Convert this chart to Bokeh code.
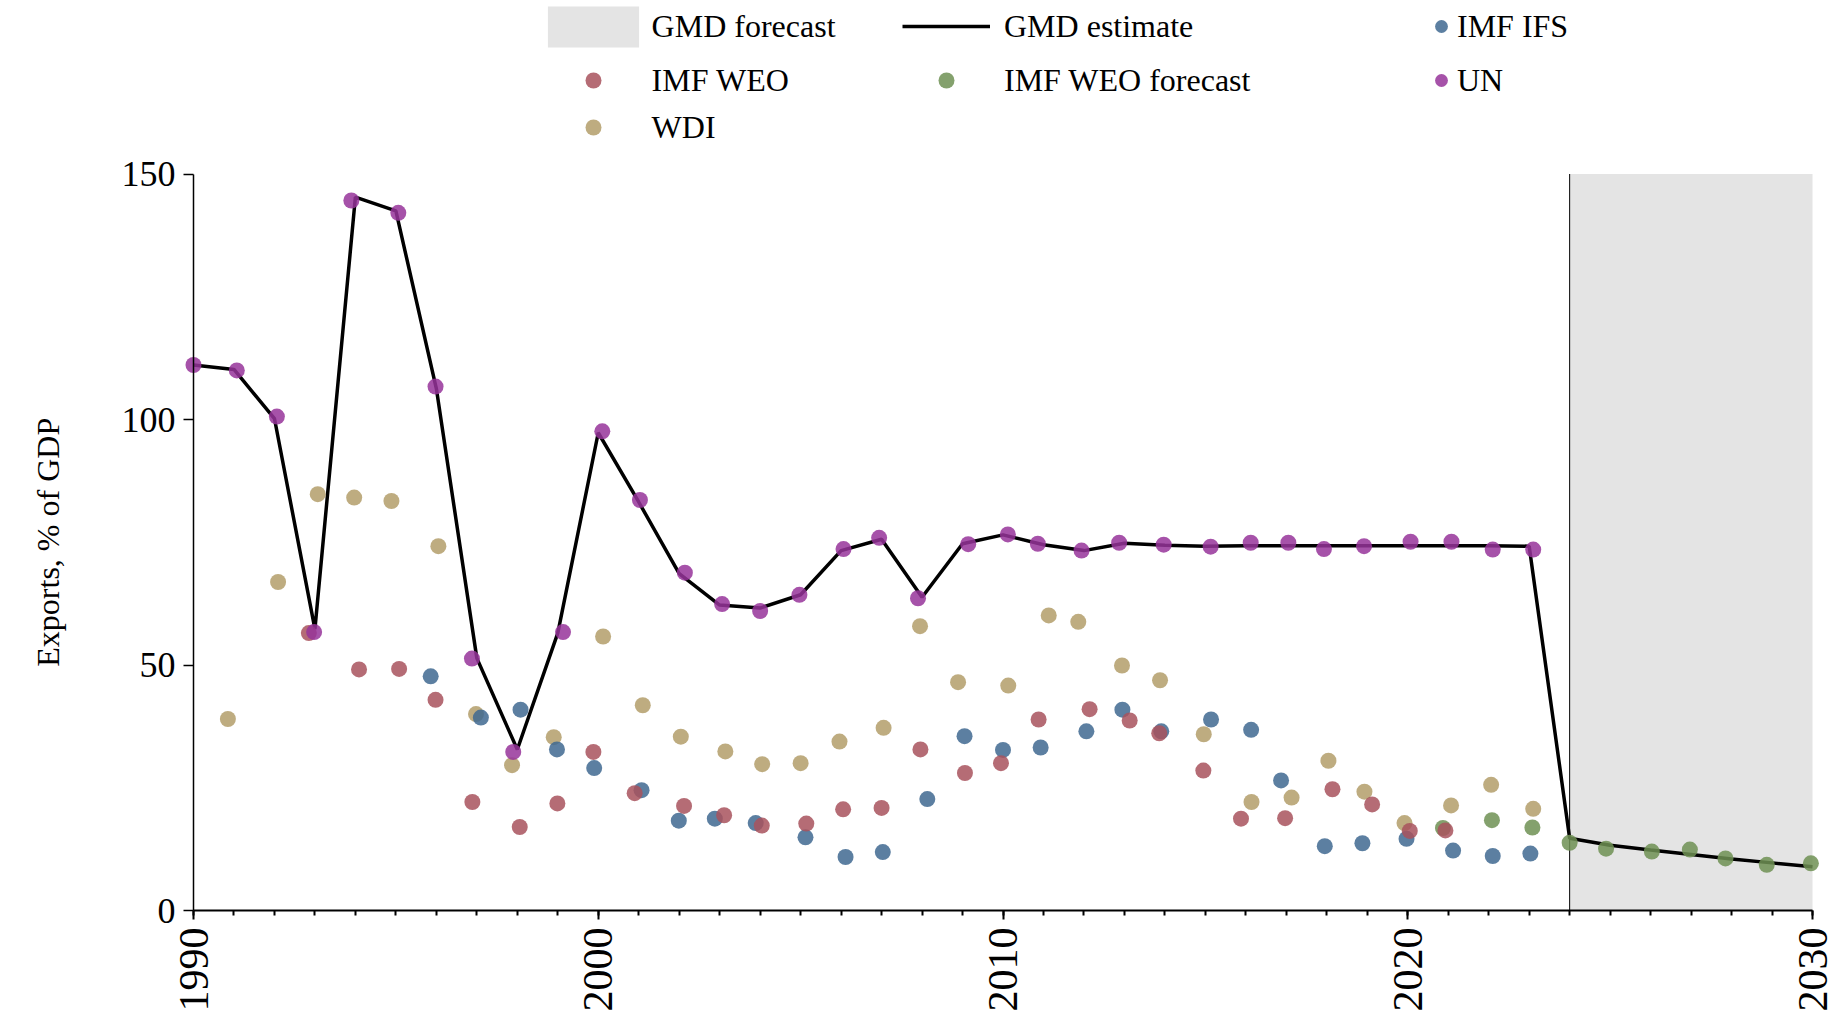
import math
from bokeh.plotting import figure
from bokeh.models import Range1d, FixedTicker, Legend, LegendItem, Label
from bokeh.embed import file_html
from bokeh.resources import INLINE

# ---------------- data ----------------
gmd_years = list(range(1990, 2031))
gmd_estimate = [111.1, 110.2, 100.2, 57.3, 145.3, 142.5, 106.3, 51.4, 32.8, 56.5,
                97.3, 83.2, 68.6, 62.2, 61.6, 64.3, 73.3, 75.6, 63.8, 74.7,
                76.5, 74.5, 73.3, 74.8, 74.4, 74.2, 74.3, 74.3, 74.3, 74.3,
                74.3, 74.3, 74.3, 74.2, 14.7, 13.3, 12.3, 11.4, 10.5, 9.7,
                8.9]

forecast_start = 2024
forecast_end = 2030

un_x = [1990.00, 1991.07, 1992.06, 1992.98, 1993.90, 1995.06, 1995.98, 1996.88, 1997.90, 1999.13,
        2000.10, 2001.03, 2002.14, 2003.06, 2004.00, 2004.97, 2006.06, 2006.94, 2007.90, 2009.14,
        2010.12, 2010.86, 2011.94, 2012.87, 2013.97, 2015.13, 2016.12, 2017.05, 2017.93, 2018.92,
        2020.07, 2021.08, 2022.10, 2023.10]
un_y = [111.1, 110.0, 100.6, 56.7, 144.6, 142.1, 106.7, 51.3, 32.3, 56.7,
        97.6, 83.6, 68.8, 62.4, 61.0, 64.3, 73.6, 75.9, 63.6, 74.6,
        76.6, 74.7, 73.3, 74.9, 74.5, 74.1, 74.9, 74.9, 73.6, 74.2,
        75.1, 75.1, 73.5, 73.5]

wdi_x = [1990.85, 1992.09, 1993.07, 1993.97, 1994.89, 1996.05, 1996.98, 1997.87, 1998.90, 2000.12,
         2001.10, 2002.04, 2003.14, 2004.05, 2005.00, 2005.96, 2007.05, 2007.95, 2008.89, 2010.13,
         2011.13, 2011.86, 2012.94, 2013.88, 2014.96, 2016.14, 2017.13, 2018.04, 2018.93, 2019.92,
         2021.07, 2022.06, 2023.10]
wdi_y = [39.0, 66.9, 84.8, 84.1, 83.4, 74.2, 40.0, 29.6, 35.3, 55.8,
         41.8, 35.4, 32.4, 29.8, 30.0, 34.4, 37.2, 57.9, 46.5, 45.8,
         60.1, 58.8, 49.9, 46.9, 35.9, 22.1, 23.0, 30.5, 24.2, 17.8,
         21.4, 25.6, 20.7]

weo_x = [1992.85, 1994.09, 1995.08, 1995.98, 1996.89, 1998.06, 1998.99, 1999.88, 2000.90, 2002.12,
         2003.11, 2004.04, 2005.14, 2006.05, 2007.00, 2007.96, 2009.06, 2009.95, 2010.88, 2012.14,
         2013.13, 2013.86, 2014.95, 2015.88, 2016.97, 2018.14, 2019.12, 2020.05, 2020.93]
weo_y = [56.5, 49.1, 49.2, 42.9, 22.1, 17.0, 21.8, 32.3, 23.9, 21.3,
         19.4, 17.3, 17.7, 20.6, 20.9, 32.8, 28.0, 30.0, 38.9, 41.0,
         38.7, 36.1, 28.5, 18.7, 18.8, 24.7, 21.6, 16.2, 16.3]

ifs_x = [1995.86, 1997.10, 1998.08, 1998.98, 1999.90, 2001.07, 2001.99, 2002.88, 2003.89, 2005.12,
         2006.11, 2007.03, 2008.13, 2009.05, 2010.00, 2010.93, 2012.06, 2012.95, 2013.91, 2015.14,
         2016.13, 2016.87, 2017.95, 2018.88, 2019.97, 2021.12, 2022.10, 2023.03]
ifs_y = [47.7, 39.3, 40.9, 32.8, 29.0, 24.5, 18.3, 18.7, 17.8, 14.9,
         10.9, 11.9, 22.7, 35.5, 32.7, 33.2, 36.5, 40.9, 36.5, 38.9,
         36.8, 26.5, 13.1, 13.7, 14.6, 12.2, 11.1, 11.6]

weo_fc_x = [2020.87, 2022.08, 2023.08, 2024.00, 2024.90, 2026.03, 2026.97, 2027.85, 2028.87, 2029.96]
weo_fc_y = [16.8, 18.4, 16.9, 13.8, 12.6, 12.0, 12.4, 10.6, 9.3, 9.6]

x_major_ticks = [1990, 2000, 2010, 2020, 2030]
x_minor_ticks = list(range(1990, 2031))
y_ticks = [0, 50, 100, 150]
x_min, x_max = 1990, 2030
y_min, y_max = 0, 150
y_title = "Exports, % of GDP"

FONT = "Liberation Serif"

# ---------------- layout geometry (page px; Bokeh's page has no body margin) ----------------
W, H = 1837, 1016
AXIS_LEFT = 193          # page x of 1990
AXIS_RIGHT = 1812        # page x of 2030
AXIS_BOTTOM = 910        # page y of value 0
TOP_OF_AXIS = 173.5      # page y of value 150
# The frame covers the whole canvas so that tick labels, legend and y title are all
# drawn inside it; the axes are pinned at 1990 / 0 and bounded to the data span.
px_per_x = (AXIS_RIGHT - AXIS_LEFT) / (x_max - x_min)
px_per_y = (AXIS_BOTTOM - TOP_OF_AXIS) / (y_max - y_min)
x_view_left = x_min - AXIS_LEFT / px_per_x
x_view_right = x_max + (W - AXIS_RIGHT) / px_per_x
y_view_top = y_min + AXIS_BOTTOM / px_per_y
y_view_bottom = y_min - (H - AXIS_BOTTOM) / px_per_y

p = figure(width=W, height=H, output_backend="svg", toolbar_location=None, title=None,
           x_range=Range1d(x_view_left, x_view_right), y_range=Range1d(y_view_bottom, y_view_top),
           min_border_left=0, min_border_right=0, min_border_top=0, min_border_bottom=0)
p.outline_line_color = None
p.grid.visible = False
p.background_fill_color = "white"
p.border_fill_color = "white"

r_fc = p.quad(left=[forecast_start], right=[forecast_end], bottom=[y_min], top=[y_max],
              fill_color="#E4E4E4", line_color=None)
p.segment(x0=[forecast_start], y0=[y_min], x1=[forecast_start], y1=[y_max],
          line_color="black", line_width=1)

r_gmd = p.line(gmd_years, gmd_estimate, line_color="black", line_width=3.5)

MS = 16
AL = 0.85
r_wdi = p.scatter(wdi_x, wdi_y, size=MS, fill_color="#B39E6A", fill_alpha=AL, line_color=None)
r_ifs = p.scatter(ifs_x, ifs_y, size=MS, fill_color="#3F6890", fill_alpha=AL, line_color=None)
r_wfc = p.scatter(weo_fc_x, weo_fc_y, size=MS, fill_color="#6E9053", fill_alpha=AL, line_color=None)
r_weo = p.scatter(weo_x, weo_y, size=MS, fill_color="#A8525D", fill_alpha=AL, line_color=None)
r_un = p.scatter(un_x, un_y, size=MS, fill_color="#97349A", fill_alpha=AL, line_color=None)

# ---------------- axes ----------------
xa = p.xaxis[0]
xa.fixed_location = y_min
xa.bounds = (x_min, x_max)
xa.ticker = FixedTicker(ticks=x_major_ticks, minor_ticks=x_minor_ticks)
xa.major_label_orientation = math.pi / 2
xa.major_label_text_font = FONT
xa.major_label_text_font_size = "42px"
xa.major_label_text_color = "black"
xa.major_label_standoff = 8
xa.axis_label_standoff = 0
xa.axis_line_width = 2
xa.axis_line_color = "black"
xa.major_tick_line_width = 2
xa.minor_tick_line_width = 2
xa.major_tick_out = 9
xa.major_tick_in = 0
xa.minor_tick_out = 5
xa.minor_tick_in = 0

ya = p.yaxis[0]
ya.fixed_location = x_min
ya.bounds = (y_min, y_max)
ya.ticker = FixedTicker(ticks=y_ticks, minor_ticks=[])
ya.major_label_text_font = FONT
ya.major_label_text_font_size = "36px"
ya.major_label_text_color = "black"
ya.major_label_standoff = 8
ya.axis_line_width = 1.5
ya.axis_line_color = "black"
ya.major_tick_line_width = 1.5
ya.major_tick_out = 10
ya.major_tick_in = 0
ya.minor_tick_out = 0
ya.minor_tick_in = 0

# y axis title, centred on the 0..150 span of the axis (screen units from frame bottom)
p.add_layout(Label(x=47, y=H - (AXIS_BOTTOM + TOP_OF_AXIS) / 2,
                   x_units="screen", y_units="screen", angle=math.pi / 2,
                   text=y_title, text_align="center", text_baseline="middle",
                   text_font=FONT, text_font_size="32px", text_color="black"))


# ---------------- legend (3 columns, 3 rows) ----------------
def add_legend(label, renderer, left_px, center_y, gw, gh, standoff):
    lg = Legend(items=[LegendItem(label=label, renderers=[renderer])],
                location=(left_px, H - (center_y + gh / 2)),
                orientation="vertical", glyph_width=gw, glyph_height=gh,
                label_standoff=standoff, label_height=gh, label_width=10,
                label_text_font=FONT, label_text_font_size="32px",
                label_text_color="black", padding=0, margin=0, spacing=0,
                border_line_color=None, background_fill_alpha=0)
    p.add_layout(lg, "center")


row_y = [26, 80, 127]
c1, c2, c3 = 535.6, 902, 1425
add_legend("GMD forecast", r_fc, c1, row_y[0], 114, 51, 2)
add_legend("GMD estimate", r_gmd, c2, row_y[0], 88, 40, 14)
add_legend("IMF IFS", r_ifs, c3, row_y[0], 32, 40, 0)
add_legend("IMF WEO", r_weo, c1, row_y[1], 114, 40, 2)
add_legend("IMF WEO forecast", r_wfc, c2, row_y[1], 88, 40, 14)
add_legend("UN", r_un, c3, row_y[1], 32, 40, 0)
add_legend("WDI", r_wdi, c1, row_y[2], 114, 40, 2)

open("out.html", "w").write(file_html(p, INLINE))
